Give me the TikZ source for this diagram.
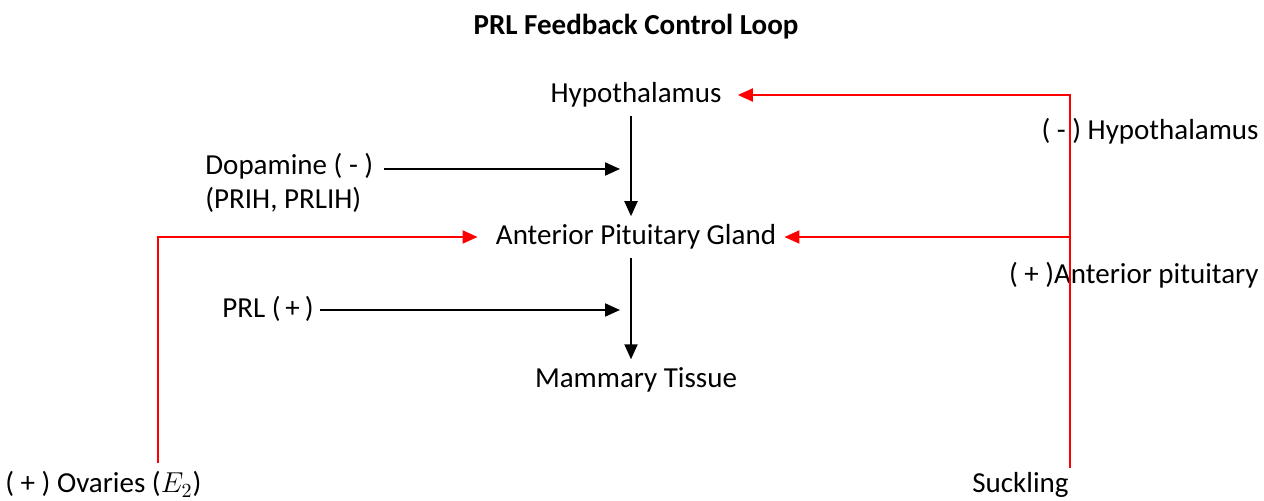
\documentclass[tikz,border=0pt]{standalone}
\usepackage{fontspec}
\setmainfont{Carlito}
\usetikzlibrary{arrows.meta}

\begin{document}
\begin{tikzpicture}[x=0.5pt,y=-0.5pt]
\tikzstyle{every node}+=[inner sep=4pt,font=\fontsize{14.5}{17}\selectfont]
\tikzstyle{flow}=[-{Triangle[length=7.5pt,width=6.5pt]},line width=1pt,black]
\tikzstyle{feedback}=[flow,red]
\useasboundingbox (0,0) rectangle (1264,501);
\draw (636,27) node (title) {\bfseries PRL Feedback Control Loop};
\draw (636,95) node (hyp) {Hypothalamus};
\draw (636,237) node (apg) {Anterior Pituitary Gland};
\draw (636,380) node (mam) {Mammary Tissue};
\draw (205,166) node [anchor=west,inner sep=0pt] (dop) {Dopamine ( - )};
\draw (205,200) node [anchor=west,inner sep=0pt] (prih) {(PRIH, PRLIH)};
\draw (222,309) node [anchor=west,inner sep=0pt] (prl) {PRL (\,+\,)};
\draw (5,493) node [anchor=base west,inner sep=0pt] (ovaries) {( + ) Ovaries ($E_2$)};
\draw (972,493) node [anchor=base west,inner sep=0pt] (suck) {Suckling};
\draw (1259,131) node [anchor=east,inner sep=0pt] (neghyp) {( - ) Hypothalamus};
\draw (1259,275) node [anchor=east,inner sep=0pt] (posapg) {( + )Anterior pituitary};
\coordinate (spine) at (631,0);
\coordinate (dopend) at (620,169);
\coordinate (prlend) at (620,310);
\coordinate (ovfoot) at (158,463);
\coordinate (suckfoot) at (1070,468);
% main axis
\draw [flow] (hyp.south -| spine) -- (apg.north -| spine);
\draw [flow] (apg.south -| spine) -- (mam.north -| spine);
\draw [flow] (dop.east |- dopend) ++(10,0) -- (dopend);
\draw [flow] (prl.east |- prlend) ++(6,0) -- (prlend);
% feedback
\draw [feedback,shorten >=5pt] (ovfoot) |- (apg.west);
\draw [feedback,shorten >=4pt] (suckfoot) |- (hyp.east);
\draw [feedback] (suckfoot |- apg.east) -- (apg.east);
\end{tikzpicture}
\end{document}
